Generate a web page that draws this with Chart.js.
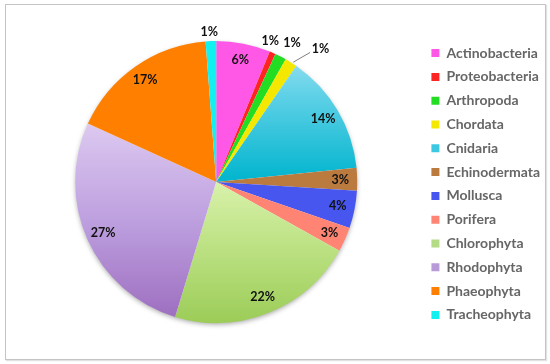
<!DOCTYPE html>
<html>
<head>
<meta charset="utf-8">
<script src="https://cdn.jsdelivr.net/npm/chart.js@4"></script>
<style>
  html, body { margin: 0; padding: 0; background: #fff; }
  #wrap { position: relative; width: 550px; height: 364px; }
  #frame { position: absolute; left: 5px; top: 4px; width: 539px; height: 354px;
           border: 1px solid #c4c4c4; box-shadow: 1px 1px 1px #e2e2e2; pointer-events: none; }
  canvas { position: absolute; left: 0; top: 0; }
</style>
</head>
<body>
<div id="wrap">
  <canvas id="c" width="550" height="364"></canvas>
  <div id="frame"></div>
</div>
<script>
// ---- data ----
const categories = ['Actinobacteria', 'Proteobacteria', 'Arthropoda', 'Chordata', 'Cnidaria',
  'Echinodermata', 'Mollusca', 'Porifera', 'Chlorophyta', 'Rhodophyta', 'Phaeophyta', 'Tracheophyta'];
const shares = [6.2, 0.7, 1.3, 1.4, 13.8, 2.6, 4.3, 2.8, 21.6, 27.1, 17.0, 1.2];

// ---- styles ----
const baseColors = ['#ff58e6', '#ff2424', '#22dd22', '#f4e800', '#3cc8e0', '#bb7a3e',
  '#4656ee', '#ff8474', '#b4dc84', '#b99ad9', '#ff8000', '#12f0f0'];
// gradient stops across the pie's vertical extent (0 = top of pie, 1 = bottom)
const gradients = {
  4: [[0, '#a6e4f4'], [0.2, '#5cd0e6'], [0.48, '#06b6cf']],
  8: [[0.5, '#d8f2aa'], [0.8, '#b4dc78'], [1, '#9ccc58']],
  9: [[0.3, '#dcc8f0'], [0.65, '#bc9ede'], [1, '#9c6cbe']]
};

Chart.defaults.font.family = 'Lato, "Liberation Sans", sans-serif';

const pieRadius = 141;
const pieCenterX = 218;
const padTopBottom = 20;
const legendFontSize = 14;
const legendFont = 'bold ' + legendFontSize + 'px Lato';
const boxW = 8;
const legendPad = 9.8;
const boxX = 435;

// measure legend text to lay out chart area so pie is centered where needed
const mctx = document.createElement('canvas').getContext('2d');
mctx.font = legendFont;
let maxText = 0;
categories.forEach(t => { maxText = Math.max(maxText, mctx.measureText(t).width); });
const itemWidth = boxW + legendFontSize / 2 + maxText;
const legendLeft = boxX - legendPad;
const legendRight = legendLeft + legendPad + itemWidth + 10;
const padRight = Math.max(0, 550 - legendRight);
const padLeft = 2 * pieCenterX - legendLeft;

const shadowPlugin = {
  id: 'pieShadow',
  beforeDatasetsDraw(chart) {
    const arc = chart.getDatasetMeta(0).data[0];
    if (!arc) return;
    const { x, y, outerRadius } = arc.getProps(['x', 'y', 'outerRadius'], true);
    const ctx = chart.ctx;
    ctx.save();
    ctx.shadowColor = 'rgba(0,0,0,0.35)';
    ctx.shadowBlur = 5;
    ctx.shadowOffsetY = 2;
    ctx.fillStyle = '#ffffff';
    ctx.beginPath();
    ctx.arc(x, y, outerRadius - 0.5, 0, Math.PI * 2);
    ctx.fill();
    ctx.restore();
  }
};

const labelPlugin = {
  id: 'sliceLabels',
  afterDatasetsDraw(chart, args, opts) {
    const ctx = chart.ctx;
    const meta = chart.getDatasetMeta(0);
    const vals = chart.data.datasets[0].data;
    const total = vals.reduce((a, b) => a + b, 0);
    ctx.save();
    ctx.font = opts.font;
    ctx.fillStyle = opts.color;
    ctx.textAlign = 'center';
    ctx.textBaseline = 'middle';
    meta.data.forEach((arc, i) => {
      const p = arc.getProps(['x', 'y', 'startAngle', 'endAngle', 'outerRadius'], true);
      const mid = (p.startAngle + p.endAngle) / 2;
      const a = mid + (opts.angleShift[i] || 0) * Math.PI / 180;
      const f = opts.radius[i] != null ? opts.radius[i] : opts.defaultRadius;
      const lx = p.x + Math.cos(a) * p.outerRadius * f;
      const ly = p.y + Math.sin(a) * p.outerRadius * f;
      if (opts.leader[i]) {
        const L = opts.leader[i];
        const a1 = mid + L.a1 * Math.PI / 180, a2 = mid + L.a2 * Math.PI / 180;
        ctx.save();
        ctx.strokeStyle = '#7f7f7f';
        ctx.lineWidth = 1;
        ctx.beginPath();
        ctx.moveTo(p.x + Math.cos(a1) * p.outerRadius * L.r1, p.y + Math.sin(a1) * p.outerRadius * L.r1);
        ctx.lineTo(p.x + Math.cos(a2) * p.outerRadius * L.r2, p.y + Math.sin(a2) * p.outerRadius * L.r2);
        ctx.stroke();
        ctx.restore();
      }
      ctx.fillText(Math.round(vals[i] / total * 100) + '%', lx, ly);
    });
    ctx.restore();
  }
};

new Chart(document.getElementById('c'), {
  type: 'pie',
  data: {
    labels: categories,
    datasets: [{
      data: shares,
      radius: pieRadius,
      borderWidth: 0,
      hoverOffset: 0,
      backgroundColor: (c) => {
        const i = c.dataIndex;
        const area = c.chart.chartArea;
        if (!area || !gradients[i]) return baseColors[i];
        const cy = (area.top + area.bottom) / 2;
        const g = c.chart.ctx.createLinearGradient(0, cy - pieRadius, 0, cy + pieRadius);
        gradients[i].forEach(s => g.addColorStop(s[0], s[1]));
        return g;
      }
    }]
  },
  options: {
    responsive: false,
    animation: false,
    devicePixelRatio: 1,
    layout: { padding: { left: padLeft, right: padRight, top: padTopBottom, bottom: padTopBottom } },
    plugins: {
      tooltip: { enabled: false },
      legend: {
        position: 'right',
        title: { display: true, text: '', padding: 0, font: { size: 3.34 } },
        labels: {
          boxWidth: boxW,
          boxHeight: boxW,
          padding: legendPad,
          color: '#000',
          font: { size: legendFontSize, weight: 'bold', family: 'Lato' },
          generateLabels: (chart) => chart.data.labels.map((t, i) => ({
            text: t, fillStyle: baseColors[i], strokeStyle: baseColors[i], lineWidth: 0, index: i
          }))
        }
      },
      sliceLabels: {
        font: 'bold 12.5px Lato',
        color: '#111',
        defaultRadius: 0.88,
        radius: { 1: 1.07, 2: 1.12, 3: 1.2, 11: 1.064 },
        angleShift: { 1: -2.6, 2: 1.5, 3: 6, 11: -0.5 },
        leader: { 3: { r1: 1.01, a1: 0.7, r2: 1.135, a2: 3.9 } }
      }
    }
  },
  plugins: [shadowPlugin, labelPlugin]
});
</script>
</body>
</html>
